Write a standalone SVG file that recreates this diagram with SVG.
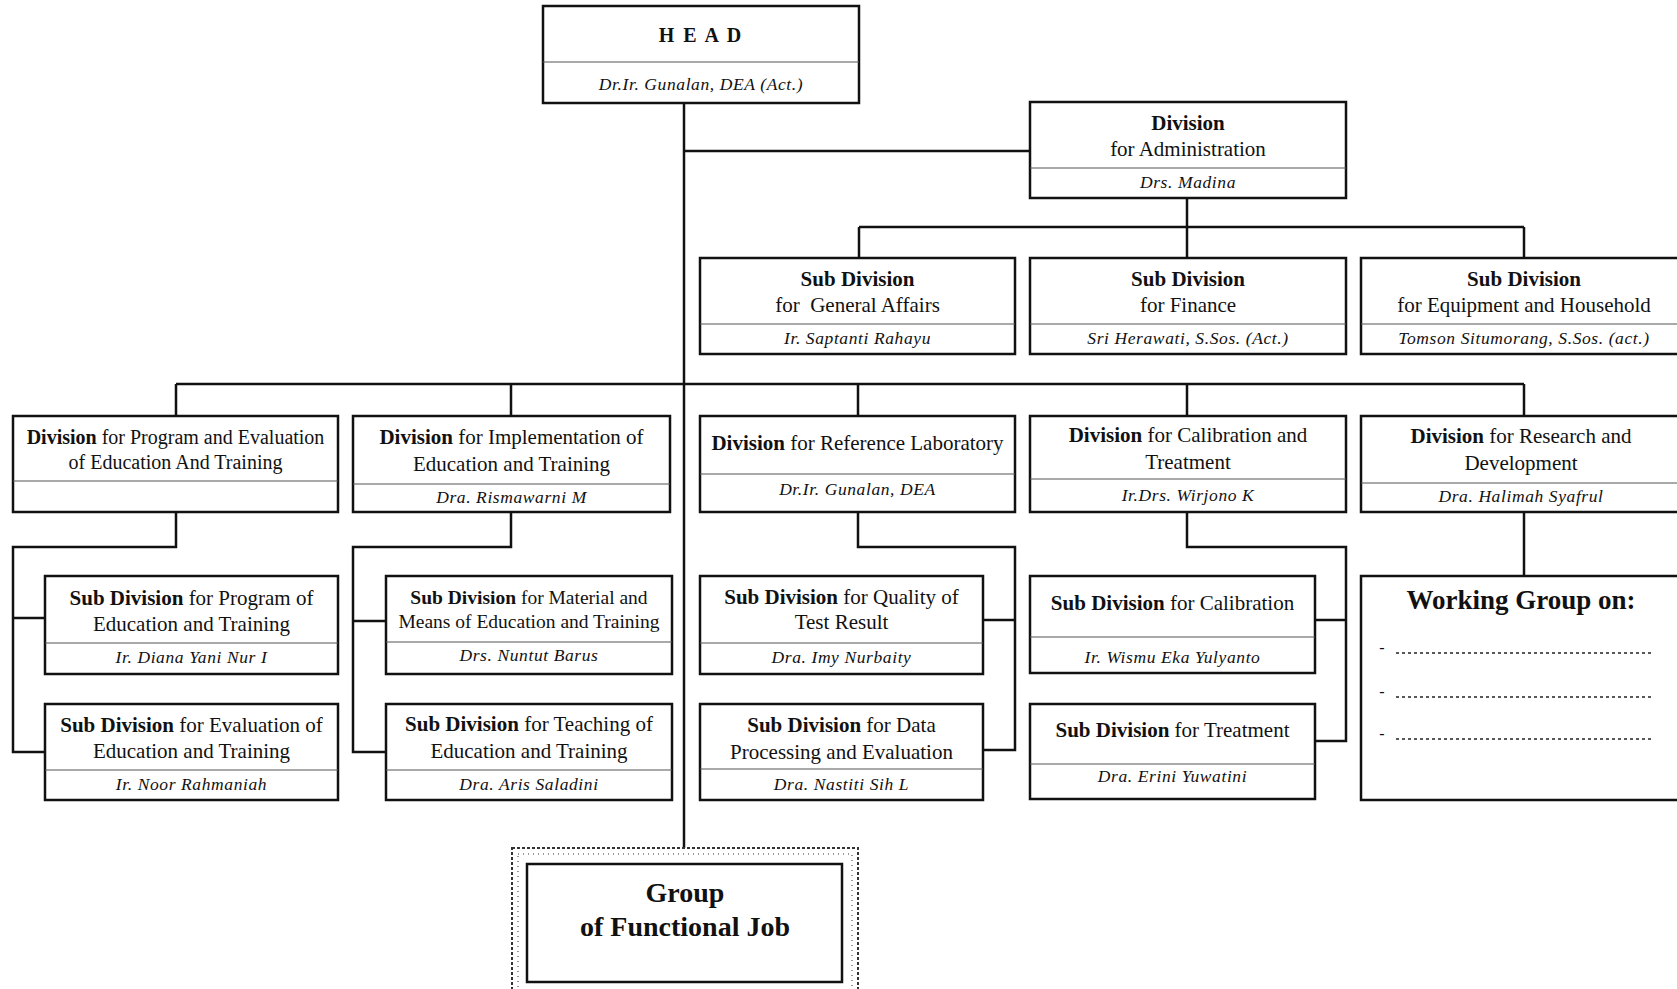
<svg xmlns="http://www.w3.org/2000/svg" width="1677" height="989" viewBox="0 0 1677 989">
<style>
.bx{fill:#fff;stroke:#111;stroke-width:2.5}
.dv{stroke:#555;stroke-width:1.2}
.cn{fill:none;stroke:#111;stroke-width:2.5}
text{font-family:"Liberation Serif","Times New Roman",serif;fill:#111;text-anchor:middle}
.t{font-size:21px}
.ts{font-size:20px}
.b{font-weight:bold}
.n{font-size:17.5px;font-style:italic;letter-spacing:0.6px}
.dots{stroke:#222;stroke-width:1.5;stroke-dasharray:3 3}
</style>
<rect width="1677" height="989" fill="#fff"/>

<g id="connectors">
<path class="cn" d="M684 103V848"/>
<path class="cn" d="M684 151H1030"/>
<path class="cn" d="M1187 198V227M859 227H1524M859 227V258M1187 227V258M1524 227V258"/>
<path class="cn" d="M176 384H1524M176 384V416M511 384V416M858 384V416M1187 384V416M1524 384V416"/>
<path class="cn" d="M176 512V547H13V752H45M13 618H45"/>
<path class="cn" d="M511 512V547H353V752H386M353 621H386"/>
<path class="cn" d="M858 512V547H1015V750H983M983 620H1015"/>
<path class="cn" d="M1187 512V547H1346V741H1315M1315 620H1346"/>
<path class="cn" d="M1524 512V576"/>
</g>

<g id="head">
<rect class="bx" x="543" y="6" width="316" height="97"/>
<line class="dv" x1="543" y1="62" x2="859" y2="62"/>
<text x="701" y="42" class="b" style="font-size:20px;letter-spacing:2px">H E A D</text>
<text x="701" y="90" class="n">Dr.Ir. Gunalan, DEA (Act.)</text>
</g>

<g id="div-admin">
<rect class="bx" x="1030" y="102" width="316" height="96"/>
<line class="dv" x1="1030" y1="168" x2="1346" y2="168"/>
<text x="1188" y="130" class="t b">Division</text>
<text x="1188" y="156" class="t">for Administration</text>
<text x="1188" y="188" class="n">Drs. Madina</text>
</g>

<g id="sub-general">
<rect class="bx" x="700" y="258" width="315" height="96"/>
<line class="dv" x1="700" y1="324" x2="1015" y2="324"/>
<text x="857.5" y="286" class="t b">Sub Division</text>
<text x="857.5" y="312" class="t">for&#160; General Affairs</text>
<text x="857.5" y="344" class="n">Ir. Saptanti Rahayu</text>
</g>

<g id="sub-finance">
<rect class="bx" x="1030" y="258" width="316" height="96"/>
<line class="dv" x1="1030" y1="324" x2="1346" y2="324"/>
<text x="1188" y="286" class="t b">Sub Division</text>
<text x="1188" y="312" class="t">for Finance</text>
<text x="1188" y="344" class="n">Sri Herawati, S.Sos. (Act.)</text>
</g>

<g id="sub-equipment">
<rect class="bx" x="1361" y="258" width="330" height="96"/>
<line class="dv" x1="1361" y1="324" x2="1691" y2="324"/>
<text x="1524" y="286" class="t b">Sub Division</text>
<text x="1524" y="312" class="t">for Equipment and Household</text>
<text x="1524" y="344" class="n">Tomson Situmorang, S.Sos. (act.)</text>
</g>

<g id="div-program">
<rect class="bx" x="13" y="416" width="325" height="96"/>
<line class="dv" x1="13" y1="481" x2="338" y2="481"/>
<text x="175.5" y="444" class="ts"><tspan class="b">Division</tspan> for Program and Evaluation</text>
<text x="175.5" y="469" class="ts">of Education And Training</text>
</g>

<g id="div-implementation">
<rect class="bx" x="353" y="416" width="317" height="96"/>
<line class="dv" x1="353" y1="484" x2="670" y2="484"/>
<text x="511.5" y="444" class="t"><tspan class="b">Division</tspan> for Implementation of</text>
<text x="511.5" y="471" class="t">Education and Training</text>
<text x="511.5" y="503" class="n">Dra. Rismawarni M</text>
</g>

<g id="div-reference">
<rect class="bx" x="700" y="416" width="315" height="96"/>
<line class="dv" x1="700" y1="474" x2="1015" y2="474"/>
<text x="857.5" y="450" class="t"><tspan class="b">Division</tspan> for Reference Laboratory</text>
<text x="857.5" y="495" class="n">Dr.Ir. Gunalan, DEA</text>
</g>

<g id="div-calibration">
<rect class="bx" x="1030" y="416" width="316" height="96"/>
<line class="dv" x1="1030" y1="479" x2="1346" y2="479"/>
<text x="1188" y="442" class="t"><tspan class="b">Division</tspan> for Calibration and</text>
<text x="1188" y="469" class="t">Treatment</text>
<text x="1188" y="501" class="n">Ir.Drs. Wirjono K</text>
</g>

<g id="div-research">
<rect class="bx" x="1361" y="416" width="330" height="96"/>
<line class="dv" x1="1361" y1="483" x2="1691" y2="483"/>
<text x="1521" y="443" class="t"><tspan class="b">Division</tspan> for Research and</text>
<text x="1521" y="470" class="t">Development</text>
<text x="1521" y="502" class="n">Dra. Halimah Syafrul</text>
</g>

<g id="sub-program">
<rect class="bx" x="45" y="576" width="293" height="98"/>
<line class="dv" x1="45" y1="643" x2="338" y2="643"/>
<text x="191.5" y="605" class="t"><tspan class="b">Sub Division</tspan> for Program of</text>
<text x="191.5" y="631" class="t">Education and Training</text>
<text x="191.5" y="663" class="n">Ir. Diana Yani Nur I</text>
</g>

<g id="sub-evaluation">
<rect class="bx" x="45" y="704" width="293" height="96"/>
<line class="dv" x1="45" y1="770" x2="338" y2="770"/>
<text x="191.5" y="732" class="t"><tspan class="b">Sub Division</tspan> for Evaluation of</text>
<text x="191.5" y="758" class="t">Education and Training</text>
<text x="191.5" y="790" class="n">Ir. Noor Rahmaniah</text>
</g>

<g id="sub-material">
<rect class="bx" x="386" y="576" width="286" height="98"/>
<line class="dv" x1="386" y1="642" x2="672" y2="642"/>
<text x="529" y="604" class="ts" style="font-size:19.5px"><tspan class="b">Sub Division</tspan> for Material and</text>
<text x="529" y="628" class="ts" style="font-size:19.5px">Means of Education and Training</text>
<text x="529" y="661" class="n">Drs. Nuntut Barus</text>
</g>

<g id="sub-teaching">
<rect class="bx" x="386" y="704" width="286" height="96"/>
<line class="dv" x1="386" y1="770" x2="672" y2="770"/>
<text x="529" y="731" class="t"><tspan class="b">Sub Division</tspan> for Teaching of</text>
<text x="529" y="758" class="t">Education and Training</text>
<text x="529" y="790" class="n">Dra. Aris Saladini</text>
</g>

<g id="sub-quality">
<rect class="bx" x="700" y="576" width="283" height="98"/>
<line class="dv" x1="700" y1="643" x2="983" y2="643"/>
<text x="841.5" y="604" class="t"><tspan class="b">Sub Division</tspan> for Quality of</text>
<text x="841.5" y="629" class="t">Test Result</text>
<text x="841.5" y="663" class="n">Dra. Imy Nurbaity</text>
</g>

<g id="sub-data">
<rect class="bx" x="700" y="704" width="283" height="96"/>
<line class="dv" x1="700" y1="769" x2="983" y2="769"/>
<text x="841.5" y="732" class="t"><tspan class="b">Sub Division</tspan> for Data</text>
<text x="841.5" y="759" class="t">Processing and Evaluation</text>
<text x="841.5" y="790" class="n">Dra. Nastiti Sih L</text>
</g>

<g id="sub-calibration">
<rect class="bx" x="1030" y="576" width="285" height="97"/>
<line class="dv" x1="1030" y1="637" x2="1315" y2="637"/>
<text x="1172.5" y="610" class="t"><tspan class="b">Sub Division</tspan> for Calibration</text>
<text x="1172.5" y="663" class="n">Ir. Wismu Eka Yulyanto</text>
</g>

<g id="sub-treatment">
<rect class="bx" x="1030" y="704" width="285" height="95"/>
<line class="dv" x1="1030" y1="764" x2="1315" y2="764"/>
<text x="1172.5" y="737" class="t"><tspan class="b">Sub Division</tspan> for Treatment</text>
<text x="1172.5" y="782" class="n">Dra. Erini Yuwatini</text>
</g>

<g id="working-group">
<rect class="bx" x="1361" y="576" width="330" height="224"/>
<text x="1521" y="609" class="b" style="font-size:27px">Working Group on:</text>
<text x="1382" y="653" style="font-size:16px">-</text>
<line class="dots" x1="1396" y1="653" x2="1653" y2="653"/>
<text x="1382" y="697" style="font-size:16px">-</text>
<line class="dots" x1="1396" y1="697" x2="1653" y2="697"/>
<text x="1382" y="739" style="font-size:16px">-</text>
<line class="dots" x1="1396" y1="739" x2="1653" y2="739"/>
</g>

<g id="functional-group">
<rect x="512" y="848" width="346" height="160" fill="#fff" stroke="#333" stroke-width="2" stroke-dasharray="3 2"/>
<rect x="518" y="854" width="334" height="150" fill="none" stroke="#777" stroke-width="1.5" stroke-dasharray="1 4"/>
<rect class="bx" x="527" y="864" width="315" height="118"/>
<text x="685" y="902" class="b" style="font-size:28px">Group</text>
<text x="685" y="936" class="b" style="font-size:28px">of Functional Job</text>
</g>
</svg>
